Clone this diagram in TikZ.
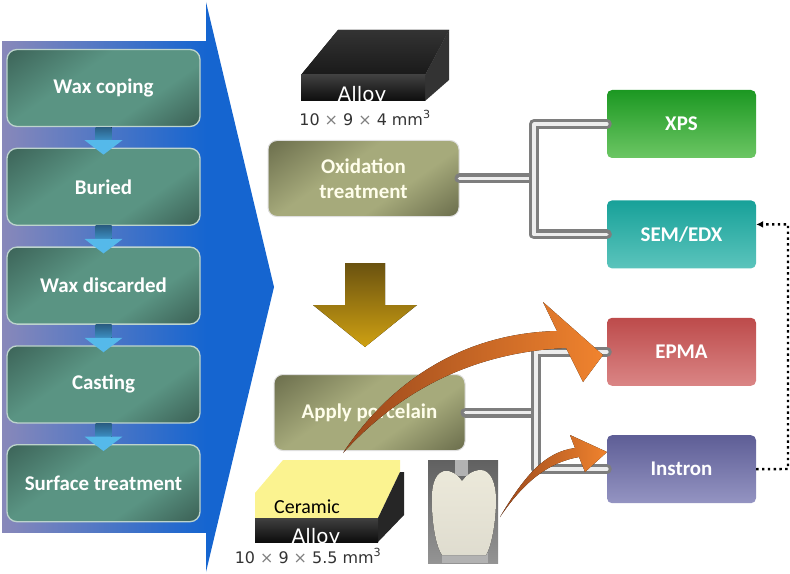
\documentclass[tikz,border=0pt]{standalone}
\usepackage{fontspec}
\usepackage{tikz}
\usetikzlibrary{arrows.meta,positioning}
\setmainfont{Carlito}
\newfontfamily\dejavu{DejaVu Sans}

\definecolor{panL}{HTML}{8888BA}
\definecolor{panR}{HTML}{1565D0}
\definecolor{tealdk}{HTML}{2A463E}
\definecolor{tealbt}{HTML}{243932}
\definecolor{teallt}{HTML}{5A9483}
\definecolor{olivedk}{HTML}{4A4C32}
\definecolor{olivebt}{HTML}{42442C}
\definecolor{olivelt}{HTML}{A6AA7B}
\definecolor{stemdk}{HTML}{2A5E84}
\definecolor{stemlt}{HTML}{3C8EC2}
\definecolor{headlt}{HTML}{55B9EA}
\definecolor{golddk}{HTML}{6A5210}
\definecolor{goldlt}{HTML}{CFA112}
\definecolor{orgdk}{HTML}{9A481C}
\definecolor{orglt}{HTML}{F0832E}
\definecolor{ceram}{HTML}{FBF390}
\definecolor{pipegray}{HTML}{7E7E7E}
\definecolor{pipelt}{HTML}{EDEDED}
\definecolor{xpsdk}{HTML}{1C9822}
\definecolor{xpslt}{HTML}{6CC664}
\definecolor{semdk}{HTML}{17A199}
\definecolor{semlt}{HTML}{5BC4BC}
\definecolor{epmadk}{HTML}{BD4B4B}
\definecolor{epmalt}{HTML}{DA8585}
\definecolor{insdk}{HTML}{5E5E96}
\definecolor{inslt}{HTML}{9494C2}
\definecolor{toothc}{HTML}{ECE9DA}

\pgfdeclareverticalshading{tealshade}{100bp}{color(0bp)=(tealbt); color(36bp)=(teallt); color(60bp)=(teallt); color(100bp)=(tealdk)}
\pgfdeclareverticalshading{oliveshade}{100bp}{color(0bp)=(olivebt); color(38bp)=(olivelt); color(58bp)=(olivelt); color(100bp)=(olivedk)}

\begin{document}
\begin{tikzpicture}[x=1bp, y=-1bp,
    stepbox/.style={draw=white!60!teallt, line width=1.3bp, rounded corners=10bp,
      shading=tealshade, shading angle=35, minimum width=193bp, minimum height=77bp,
      inner sep=0pt, text=white, font=\fontsize{21}{25}\selectfont\bfseries},
    procbox/.style={draw=white!75!gray, line width=1bp, rounded corners=9bp,
      shading=oliveshade, shading angle=35, minimum width=191bp, minimum height=76bp,
      inner sep=0pt, align=center, text=white!92!yellow, font=\fontsize{21}{25}\selectfont\bfseries},
    testbox/.style={rounded corners=5bp, minimum width=149bp, minimum height=68bp,
      inner sep=0pt, text=white, font=\fontsize{21}{25}\selectfont\bfseries},
    pipe/.style={draw=pipegray, line width=3.2bp, double=pipelt, double distance=3.6bp,
      line cap=round, line join=round},
    dimtext/.style={font=\dejavu\fontsize{16}{18}\selectfont, text=black!80},
    dotline/.style={line width=2.4bp, dash pattern=on 2.4bp off 3.4bp, -{Latex[length=7bp,width=7bp]}}
  ]
  \useasboundingbox (0,0) rectangle (790,574);

  % big blue arrow behind the casting steps
  \fill[left color=panL, right color=panR] (2,42) rectangle (206,532);
  \fill[panR] (206,2) -- (274,287) -- (206,572) -- cycle;

  \node[stepbox] (wax) at (103.5,88) {Wax coping};
  \node[stepbox, below=20.5bp of wax] (buried) {Buried};
  \node[stepbox, below=20.5bp of buried] (discard) {Wax discarded};
  \node[stepbox, below=20.5bp of discard] (cast) {Casting};
  \node[stepbox, below=20.5bp of cast] (surf) {Surface treatment};

  \foreach \a/\b in {wax/buried, buried/discard, discard/cast, cast/surf}{
    \fill[top color=stemdk, bottom color=stemlt] ([xshift=-8bp]\a.south) rectangle ([xshift=8bp,yshift=-13bp]\a.south);
    \fill[headlt] ([xshift=-19bp,yshift=-13bp]\a.south) -- ([xshift=19bp,yshift=-13bp]\a.south)
      -- ([yshift=-7bp]\b.north) -- cycle;
  }

  % alloy sample
  \fill[top color=black!80, bottom color=black!90] (301,75) -- (338,30) -- (449,30) -- (425,75) -- cycle;
  \fill[black!80] (425,75) -- (449,30) -- (449,80) -- (425,101) -- cycle;
  \fill[top color=black!75, bottom color=black!95] (301,75) rectangle (425,101);
  \begin{scope}
    \clip (301,75) rectangle (425,101);
    \node[anchor=base, text=white, font=\dejavu\fontsize{20}{22}\selectfont] (alloyA) at (362,102) {Alloy};
  \end{scope}
  \node[dimtext] (dimA) at (365,118) {10 {\color{gray}×} 9 {\color{gray}×} 4 mm\textsuperscript{3}};

  \node[procbox] (ox) at (363.5,178.5) {Oxidation\\treatment};

  % gold arrow
  \fill[top color=golddk, bottom color=goldlt] (345,263) -- (385,263) -- (385,305) -- (417,305)
    -- (365,347) -- (313,305) -- (345,305) -- cycle;

  \node[procbox] (ap) at (369.5,412.5) {Apply porcelain};

  % ceramic on alloy
  \fill[ceram] (283,460) -- (400,460) -- (400,472) -- (378,518) -- (255,518) -- (255,493) -- cycle;
  \fill[black!85] (378,518) -- (400,472) -- (404,472) -- (404,515) -- (378,542) -- cycle;
  \fill[top color=black!75, bottom color=black!95] (255,518) rectangle (378,542);
  \node[font=\fontsize{20}{22}\selectfont] (ceramT) at (307,507) {Ceramic};
  \begin{scope}
    \clip (255,518) rectangle (378,542);
    \node[anchor=base, text=white, font=\dejavu\fontsize{20}{22}\selectfont] (alloyB) at (316,543) {Alloy};
  \end{scope}
  \node[dimtext] (dimB) at (308,556) {10 {\color{gray}×} 9 {\color{gray}×} 5.5 mm\textsuperscript{3}};

  % crown photo
  \fill[top color=black!62, bottom color=black!42] (428,460) rectangle (498,563);
  \fill[black!30] (455,460) rectangle (468,476);
  \fill[black!30] (442,553) rectangle (488,563);
  \fill[top color=toothc, bottom color=toothc!88!gray] (462,481) .. controls (457,474) and (451,470) .. (444,471)
    .. controls (433,474) and (431,490) .. (432,508) .. controls (433,530) and (437,548) .. (442,555)
    -- (486,555) .. controls (492,545) and (496,520) .. (496,500)
    .. controls (496,482) and (490,470) .. (481,470) .. controls (473,470) and (466,475) .. (462,481) -- cycle;

  % tests
  \node[testbox, top color=xpsdk, bottom color=xpslt] (xps) at (681.5,124) {XPS};
  \node[testbox, top color=semdk, bottom color=semlt, below=42bp of xps] (sem) {SEM/EDX};
  \node[testbox, top color=epmadk, bottom color=epmalt, below=49bp of sem] (epma) {EPMA};
  \node[testbox, top color=insdk, bottom color=inslt, below=49bp of epma] (ins) {Instron};

  \coordinate (jo) at (534,178.5);
  \coordinate (jp) at (536,412.5);
  \draw[pipe] (ox.east) -- (jo);
  \draw[pipe] (xps.west) -| (jo) |- (sem.west);
  \draw[pipe] (ap.east) -- (jp);
  \draw[pipe] (epma.west) -| (jp) |- (ins.west);

  % orange arrows
  \fill[left color=orgdk, right color=orglt] (343,453) .. controls (395,375) and (470,333) .. (557,331)
    -- (543,302) -- (603,355) -- (583,382) -- (566,348) .. controls (480,352) and (405,385) .. (343,453) -- cycle;
  \fill[left color=orgdk, right color=orglt] (500,517) .. controls (525,475) and (545,452) .. (575,448)
    -- (570,435) -- (607,452) -- (585,472) -- (579,457) .. controls (550,462) and (525,480) .. (500,517) -- cycle;

  \coordinate (dr) at (788,469);
  \draw[dotline] (ins.east) -- (dr) |- ([yshift=10bp]sem.east);
\end{tikzpicture}
\end{document}
